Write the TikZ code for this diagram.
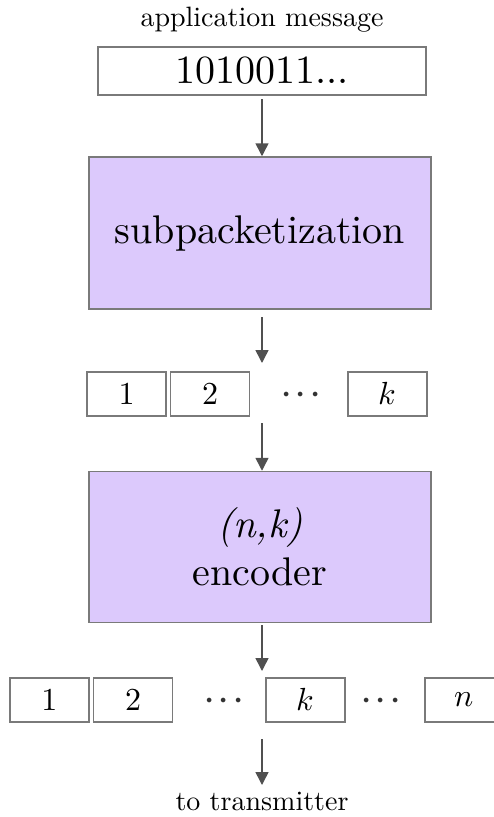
\documentclass[tikz,border=0pt]{standalone}
\usepackage{fontspec}
\usepackage{unicode-math}
\setmainfont{lmroman10-regular}[Extension=.otf, ItalicFont=lmroman10-italic, BoldFont=lmroman10-bold, BoldItalicFont=lmroman10-bolditalic]
\setmathfont{Latin Modern Math}
\usetikzlibrary{arrows.meta}
\definecolor{boxfill}{HTML}{DCC9FC}
\definecolor{edgegray}{HTML}{7A7A7A}
\definecolor{arrowgray}{HTML}{505050}
\newcommand{\threedots}{$\mathord{\cdot}\mkern1mu\mathord{\cdot}\mkern1mu\mathord{\cdot}$}
\begin{document}
\begin{tikzpicture}[x=1pt,y=1pt,
  lbl/.style={font=\fontsize{28}{32}\selectfont, inner sep=0pt},
  bigbox/.style={draw=edgegray, line width=1.5pt, fill=boxfill, minimum width=342pt, inner sep=0pt, align=center, font=\fontsize{40}{48}\selectfont},
  msgbox/.style={draw=edgegray, line width=1.5pt, fill=white, minimum width=328pt, minimum height=48pt, inner sep=0pt, font=\fontsize{40}{48}\selectfont},
  cell/.style={draw=edgegray, line width=1.5pt, fill=white, minimum width=79pt, minimum height=44pt, inner sep=0pt, font=\fontsize{32}{38}\selectfont},
  dotsnode/.style={inner sep=0pt, anchor=base, text=black!80, font=\fontsize{44}{48}\selectfont},
  flow/.style={draw=arrowgray, line width=1.5pt, -{Triangle[length=13pt,width=13pt]}}
]
\useasboundingbox (0,0) rectangle (494,-817);

\node[lbl] (app) at (262,-20) {application message};
\node[msgbox] (msg) at (262,-71) {1010011...};

\node[bigbox, minimum height=152pt] (sub) at (260,-233) {subpacketization};

\node[cell] (a1) at (126.5,-394) {1};
\node[cell] (a2) at (210,-394) {2};
\node[dotsnode] (ad) at (301,-405) {\threedots};
\node[cell] (ak) at (387.5,-394) {$k$};

\node[bigbox, minimum height=151pt] (enc) at (260,-547) {\textit{(n,k)}\\encoder};

\node[cell] (b1) at (49.5,-700) {1};
\node[cell] (b2) at (133,-700) {2};
\node[dotsnode] (bd1) at (224,-711) {\threedots};
\node[cell] (bk) at (305.5,-700) {$k$};
\node[dotsnode] (bd2) at (381,-711) {\threedots};
\node[cell] (bn) at (464.5,-700) {$n$};

\node[lbl] (tx) at (262,-801) {to transmitter};

\coordinate (s1) at (262,-99);
\coordinate (s2) at (262,-317);
\coordinate (e2) at (262,-363);
\coordinate (s3) at (262,-423);
\coordinate (s4) at (262,-625);
\coordinate (e4) at (262,-671);
\coordinate (s5) at (262,-739);
\coordinate (e5) at (262,-785);

\draw[flow] (s1) -- (s1 |- sub.north);
\draw[flow] (s2) -- (e2);
\draw[flow] (s3) -- (s3 |- enc.north);
\draw[flow] (s4) -- (e4);
\draw[flow] (s5) -- (e5);
\end{tikzpicture}
\end{document}
